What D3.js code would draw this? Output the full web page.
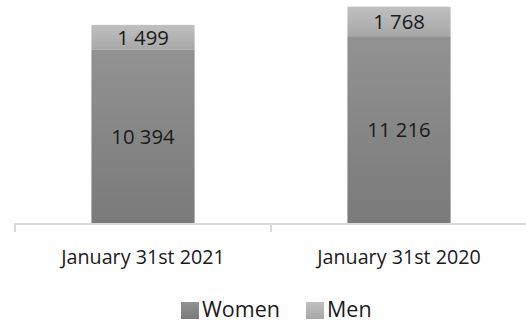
<!DOCTYPE html>
<html>
<head>
<meta charset="utf-8">
<script src="https://cdn.jsdelivr.net/npm/d3@7"></script>
<style>
  html, body { margin: 0; padding: 0; background: #fff; }
  svg { display: block; font-family: "Open Sans", "Noto Sans", sans-serif; }
</style>
</head>
<body>
<svg id="chart" width="526" height="322"></svg>
<script>
// Headcount by sex at two reporting dates (stacked)
const categories = ["January 31st 2021", "January 31st 2020"];
const women = [10394, 11216];
const men = [1499, 1768];
const seriesNames = ["Women", "Men"];

const fmt = v => d3.format(",")(v).replace(/,/g, "\u00a0");

const svg = d3.select("#chart");
const baseY = 223;

const x = d3.scaleBand().domain(categories).range([15, 527]).padding(0);
const barW = x.bandwidth() * 0.403;
const y = d3.scaleLinear().domain([0, 13000]).range([baseY, 6.4]);

const defs = svg.append("defs");
function grad(id, top, bottom) {
  const g = defs.append("linearGradient").attr("id", id)
    .attr("x1", 0).attr("y1", 0).attr("x2", 0).attr("y2", 1);
  g.append("stop").attr("offset", "0%").attr("stop-color", top);
  g.append("stop").attr("offset", "100%").attr("stop-color", bottom);
}
grad("gWomen", "#929292", "#7a7a7a");
grad("gMen", "#c0c0c0", "#a7a7a7");
const fills = ["url(#gWomen)", "url(#gMen)"];

const rows = categories.map((c, i) => ({ cat: c, Women: women[i], Men: men[i] }));
const stacked = d3.stack().keys(seriesNames)(rows);

// Axis line and tick marks at category boundaries
const axisG = svg.append("g");
axisG.append("line")
  .attr("x1", 15).attr("x2", 527).attr("y1", baseY + 1).attr("y2", baseY + 1)
  .attr("stroke", "#d9d9d9").attr("stroke-width", 2);
const tickXs = categories.map(c => x(c)).concat([x.range()[1]]);
axisG.selectAll("line.tick").data(tickXs).enter().append("line")
  .attr("class", "tick")
  .attr("x1", d => d).attr("x2", d => d)
  .attr("y1", baseY).attr("y2", baseY + 9)
  .attr("stroke", "#d9d9d9").attr("stroke-width", 2);

// Category labels via axis generator
const labelAxis = svg.append("g")
  .attr("transform", `translate(0,${baseY})`)
  .call(d3.axisBottom(x).tickSize(0).tickPadding(27));
labelAxis.select(".domain").remove();
labelAxis.selectAll("text")
  .attr("font-family", "'Open Sans', 'Noto Sans', sans-serif")
  .attr("font-size", 19.7).attr("fill", "#1a1a1a");

// Stacked bars
const layers = svg.selectAll("g.layer").data(stacked).enter().append("g")
  .attr("class", "layer").attr("fill", (d, i) => fills[i]);
layers.selectAll("rect").data(d => d).enter().append("rect")
  .attr("x", d => x(d.data.cat) + x.bandwidth() / 2 - barW / 2)
  .attr("width", barW)
  .attr("y", d => y(d[1]))
  .attr("height", d => y(d[0]) - y(d[1]));

// Value labels centred in each segment
layers.selectAll("text").data(d => d.map(p => ({ p, key: d.key }))).enter().append("text")
  .attr("x", d => x(d.p.data.cat) + x.bandwidth() / 2)
  .attr("y", d => (y(d.p[0]) + y(d.p[1])) / 2)
  .attr("dy", "0.36em")
  .attr("text-anchor", "middle")
  .attr("font-size", 20.3)
  .attr("fill", "#1a1a1a")
  .text(d => fmt(d.p.data[d.key]));

// Legend
const legend = svg.append("g");
const legendItems = [
  { name: seriesNames[0], fill: fills[0], x: 181 },
  { name: seriesNames[1], fill: fills[1], x: 306 }
];
const li = legend.selectAll("g").data(legendItems).enter().append("g")
  .attr("transform", d => `translate(${d.x},302)`);
li.append("rect").attr("width", 18).attr("height", 17).attr("fill", d => d.fill);
li.append("text").attr("x", 21).attr("y", 15)
  .attr("font-size", 21.5).attr("fill", "#1a1a1a").text(d => d.name);
</script>
</body>
</html>
